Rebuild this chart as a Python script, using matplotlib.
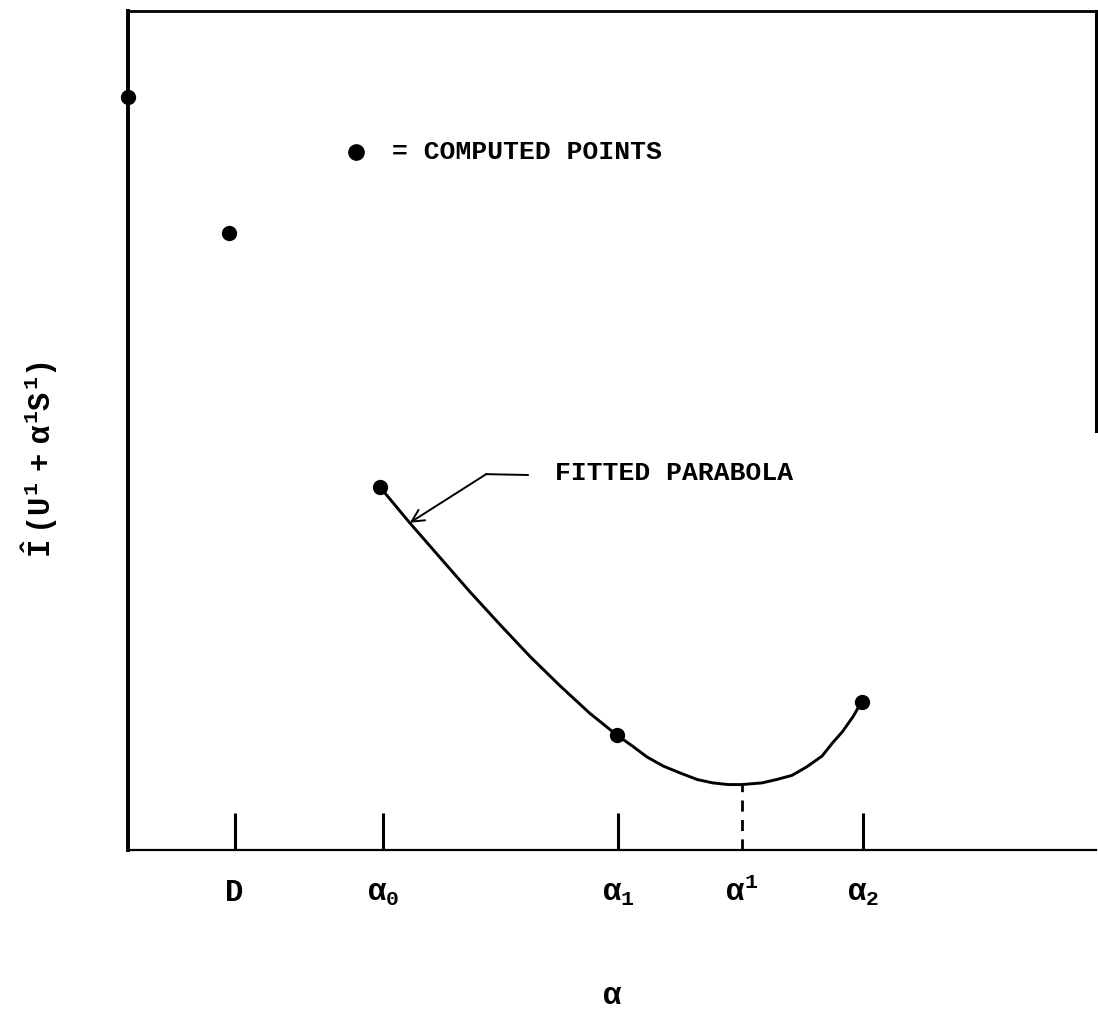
import numpy as np
import matplotlib
matplotlib.use('Agg')
import matplotlib.pyplot as plt

# typewriter-like lettering
plt.rcParams['font.family'] = ['Liberation Mono', 'DejaVu Sans']
plt.rcParams['font.weight'] = 'bold'
plt.rcParams['mathtext.fontset'] = 'custom'
plt.rcParams['mathtext.rm'] = 'Liberation Mono:bold'
plt.rcParams['mathtext.it'] = 'Liberation Mono:bold'
plt.rcParams['mathtext.bf'] = 'Liberation Mono:bold'

# computed points (alpha, objective)
pts_x = [0.0, 1.04, 2.60, 5.05, 7.58]
pts_y = [8.98, 7.36, 4.33, 1.37, 1.77]

# fitted parabola as traced through alpha_0, alpha_1, alpha_2
curve_x = [2.60, 2.91, 3.22, 3.53, 3.84, 4.15, 4.46, 4.77, 5.05,
           5.21, 5.36, 5.53, 5.70, 5.88, 6.04, 6.20, 6.34,
           6.55, 6.70, 6.86, 7.01, 7.17, 7.28, 7.38, 7.49, 7.58]
curve_y = [4.33, 3.90, 3.49, 3.08, 2.69, 2.31, 1.96, 1.63, 1.37,
           1.24, 1.11, 1.00, 0.92, 0.84, 0.80, 0.78, 0.78,
           0.80, 0.84, 0.89, 0.99, 1.12, 1.28, 1.41, 1.59, 1.77]

# axis marks
tick_pos = [1.10, 2.63, 5.06, 6.34, 7.59]
tick_lab = ['D', r'$\alpha_0$', r'$\alpha_1$', r'$\alpha^1$', r'$\alpha_2$']
alpha_min = 6.34
f_min = 0.78

fig = plt.figure(figsize=(10.98, 10.13), dpi=100)
ax = fig.add_axes([0.1166, 0.1609, 0.8816, 0.8282])
ax.set_xlim(0, 10)
ax.set_ylim(0, 10)

ax.plot(curve_x, curve_y, color='black', lw=2.1,
        solid_capstyle='round', solid_joinstyle='round')
ax.plot(pts_x, pts_y, 'o', color='black', ms=10, clip_on=False, zorder=5)

# dashed drop from the minimum of the parabola
ax.plot([alpha_min, alpha_min], [0, f_min], color='black', lw=2.0,
        ls=(0, (4, 3)))

# legend entry
ax.plot([2.35], [8.32], 'o', color='black', ms=11)
ax.text(2.73, 8.32, '= COMPUTED POINTS', fontsize=19, va='center', ha='left')

# label with leader arrow onto the curve
ax.text(4.41, 4.49, 'FITTED PARABOLA', fontsize=19, va='center', ha='left')
ax.plot([4.13, 3.70], [4.47, 4.48], color='black', lw=1.4)
ax.annotate('', xy=(curve_x[1], curve_y[1]), xytext=(3.70, 4.48),
            arrowprops=dict(arrowstyle='->', color='black', lw=1.4,
                            mutation_scale=22, shrinkA=0, shrinkB=0))

ax.set_xticks(tick_pos)
ax.set_xticklabels(tick_lab, fontsize=22)
ax.set_yticks([])
ax.tick_params(axis='x', direction='in', length=27, width=2.2, pad=20)
ax.xaxis.get_major_ticks()[3].tick1line.set_visible(False)

ax.set_xlabel(r'$\alpha$', fontsize=22, labelpad=52)
fig.text(0.036, 1 - 460 / 1013, r'$\hat{I}\ (U^1\ +\ \alpha^1 S^1)$',
         rotation=90, fontsize=22, va='center', ha='center')

for side, w in [('left', 2.8), ('top', 2.0), ('bottom', 1.6), ('right', 2.2)]:
    ax.spines[side].set_linewidth(w)
ax.spines['right'].set_bounds(5.0, 10)

fig.savefig('out.png', dpi=100)
